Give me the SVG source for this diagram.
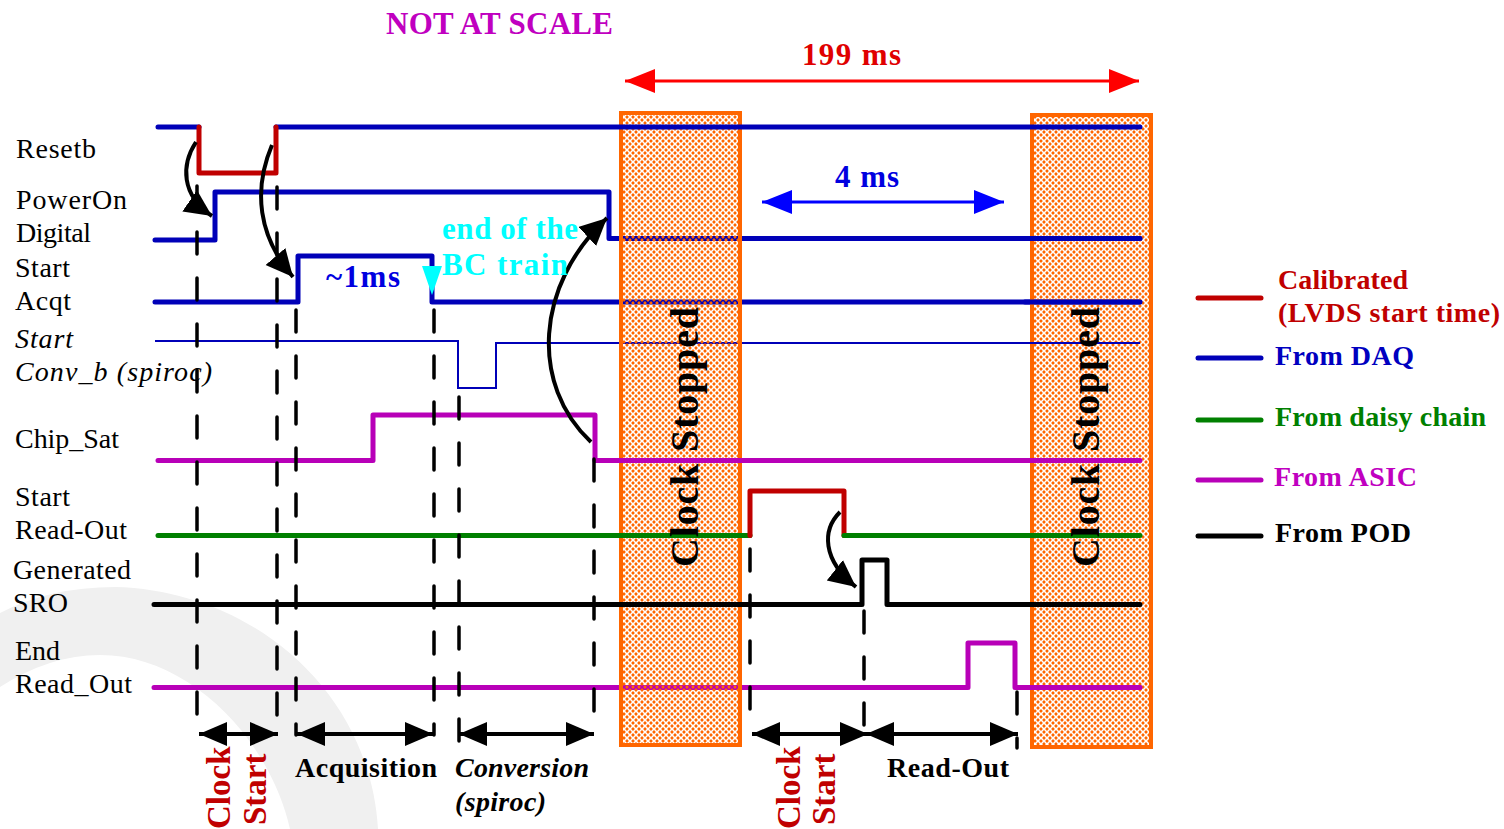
<svg xmlns="http://www.w3.org/2000/svg" width="1504" height="829" viewBox="0 0 1504 829">
<style>
text{font-family:"Liberation Serif","Times New Roman",serif}
.l{font-size:28px;fill:#000}
.i{font-style:italic}
.b{font-weight:bold}
.s{fill:none;stroke-width:5;stroke-linecap:round;stroke-linejoin:round}
.blue{stroke:#0000b8}.red{stroke:#c00000}.mag{stroke:#b800b8}.grn{stroke:#008000}.blk{stroke:#000}
.d{fill:none;stroke:#000;stroke-width:3.5;stroke-dasharray:22 24;stroke-linecap:round}
.a{fill:none;stroke:#000;stroke-width:4}
.h{fill:url(#h);stroke:#ff6600;stroke-width:4}
</style>
<defs>
<pattern id="h" width="6" height="6" patternUnits="userSpaceOnUse">
<path fill="#ff6600" d="M3 1.1L4.9 3L3 4.9L1.1 3zM0 -1.9L1.9 0L0 1.9L-1.9 0zM6 -1.9L7.9 0L6 1.9L4.1 0zM0 4.1L1.9 6L0 7.9L-1.9 6zM6 4.1L7.9 6L6 7.9L4.1 6z"/>
</pattern>
<marker id="k" markerUnits="userSpaceOnUse" markerWidth="30" markerHeight="26" refX="28" refY="12" orient="auto-start-reverse"><path d="M0 0L28 12L0 24z" fill="#000"/></marker>
<marker id="k2" markerUnits="userSpaceOnUse" markerWidth="30" markerHeight="28" refX="27" refY="13" orient="auto"><path d="M0 0L27 13L0 26z" fill="#000"/></marker>
<marker id="kb" markerUnits="userSpaceOnUse" markerWidth="32" markerHeight="26" refX="30" refY="13" orient="auto-start-reverse"><path d="M0 1L30 13L0 25z" fill="#0000ff"/></marker>
<marker id="kr" markerUnits="userSpaceOnUse" markerWidth="32" markerHeight="26" refX="30" refY="13" orient="auto-start-reverse"><path d="M0 1L30 13L0 25z" fill="#ff0000"/></marker>
</defs>
<g id="watermark"><path d="M0 613Q50 587 115 587C250 590 370 690 378 829H290C270 740 190 655 100 655Q50 655 0 687z" fill="#f0f0f0"/></g>
<g id="connectors-behind">
<path class="s blue" d="M155 240H215V192H609V238.500H1140"/>
<path class="s blue" d="M155 302H298V256H432V302H1140"/>
<path fill="none" stroke="#0000b8" stroke-width="2" d="M155 341H458V388H496V343H1140"/>
<path class="s mag" d="M154 687.500H968V643H1015V687.500H1140"/>
</g>
<g id="clock-stopped-1"><rect class="h" x="621" y="113" width="119" height="632"/></g>
<g id="clock-stopped-2"><rect class="h" x="1032" y="115" width="119" height="632"/></g>
<g id="connectors">
<path class="s blue" d="M158 127H199M276 127H1140"/>
<path class="s red" d="M199 127V173H276V127"/>
<path class="s blue" d="M1025 238.500H1140M1025 302H1140"/>
<path fill="none" stroke="#0000b8" stroke-width="2" d="M1025 343H1140"/>
<path class="s mag" d="M1025 687.500H1140"/>
<path class="s mag" d="M158 460.500H373V415H595V460.500H1140"/>
<path class="s grn" d="M158 535.500H750"/>
<path class="s red" d="M750 535.500V491H844V535.500"/>
<path class="s grn" d="M844 535.500H1140"/>
<path class="s blk" d="M154 604.500H862V560H887V604.500H1140"/>
<path class="d" d="M197 186V716M277 187V718M296 310V735M434 310V735M459 397V742M594 459V712M750 549V710M864 611V725M1017 692V748"/>
<path class="a" marker-end="url(#k2)" d="M196 142C181 165 181 195 212 216"/>
<path class="a" marker-end="url(#k2)" d="M272 145C253 190 258 236 293 277"/>
<path class="a" marker-end="url(#k2)" d="M591 442C530 385 535 285 607 218"/>
<path class="a" marker-end="url(#k2)" d="M840 512C822 530 822 560 856 587"/>
<path class="a" marker-start="url(#k)" marker-end="url(#k)" d="M199 734H278"/>
<path class="a" marker-start="url(#k)" marker-end="url(#k)" d="M297 734H433"/>
<path class="a" marker-start="url(#k)" marker-end="url(#k)" d="M459 734H594"/>
<path class="a" marker-start="url(#k)" marker-end="url(#k)" d="M752 734H868"/>
<path class="a" marker-start="url(#k)" marker-end="url(#k)" d="M866 734H1018"/>
<path fill="none" stroke="#ff0000" stroke-width="3" marker-start="url(#kr)" marker-end="url(#kr)" d="M625 81H1139"/>
<path fill="none" stroke="#0000ff" stroke-width="3" marker-start="url(#kb)" marker-end="url(#kb)" d="M762 202H1004"/>
<path fill="#00ffff" d="M422 266H442L432 295z"/>
</g>
<g id="labels">
<text class="l" x="16" y="158" textLength="80">Resetb</text>
<text class="l" x="16" y="209" textLength="111">PowerOn</text><text class="l" x="16" y="242" textLength="75">Digital</text>
<text class="l" x="15" y="277" textLength="55">Start</text><text class="l" x="15" y="310" textLength="56">Acqt</text>
<text class="l i" x="15" y="348" textLength="58">Start</text><text class="l i" x="15" y="381" textLength="197">Conv_b (spiroc)</text>
<text class="l" x="15" y="448" textLength="104">Chip_Sat</text>
<text class="l" x="15" y="506" textLength="55">Start</text><text class="l" x="15" y="539" textLength="112">Read-Out</text>
<text class="l" x="13" y="579" textLength="118">Generated</text><text class="l" x="13" y="612" textLength="55">SRO</text>
<text class="l" x="15" y="660" textLength="45">End</text><text class="l" x="15" y="693" textLength="117">Read_Out</text>
<text class="b" x="386" y="34" font-size="31" fill="#c000c0" textLength="227">NOT AT SCALE</text>
<text class="b" x="802" y="65" font-size="31" fill="#e00000" textLength="99">199 ms</text>
<text class="b" x="835" y="187" font-size="31" fill="#0000e0" textLength="64">4 ms</text>
<text class="b" x="326" y="287" font-size="31" fill="#0000e0" textLength="74">~1ms</text>
<text class="b" x="442" y="239" font-size="31" fill="#00ffff" textLength="136">end of the</text>
<text class="b" x="442" y="275" font-size="31" fill="#00ffff" textLength="126">BC train</text>
<text class="b" transform="translate(698 567) rotate(-90)" font-size="40" fill="#000" textLength="260">Clock Stopped</text>
<text class="b" transform="translate(1099 567) rotate(-90)" font-size="40" fill="#000" textLength="260">Clock Stopped</text>
<text class="b" transform="translate(230 829) rotate(-90)" font-size="33" fill="#c00000">Clock</text>
<text class="b" transform="translate(266 825) rotate(-90)" font-size="33" fill="#c00000">Start</text>
<text class="b" transform="translate(800 829) rotate(-90)" font-size="33" fill="#c00000">Clock</text>
<text class="b" transform="translate(835 825) rotate(-90)" font-size="33" fill="#c00000">Start</text>
<text class="b" x="295" y="777" font-size="28" textLength="142">Acquisition</text>
<text class="b i" x="455" y="777" font-size="28" textLength="134">Conversion</text>
<text class="b i" x="455" y="811" font-size="28" textLength="91">(spiroc)</text>
<text class="b" x="887" y="777" font-size="28" textLength="122">Read-Out</text>
</g>
<g id="legend">
<path class="s red" d="M1198 298H1261"/>
<path class="s blue" d="M1198 358H1261"/>
<path class="s grn" d="M1198 420H1261"/>
<path class="s mag" d="M1198 480H1261"/>
<path class="s blk" d="M1198 536H1261"/>
<text class="b" x="1278" y="289" font-size="28" fill="#c00000" textLength="130">Calibrated</text>
<text class="b" x="1278" y="322" font-size="28" fill="#c00000" textLength="222">(LVDS start time)</text>
<text class="b" x="1275" y="365" font-size="28" fill="#0000c0" textLength="139">From DAQ</text>
<text class="b" x="1275" y="426" font-size="28" fill="#008000" textLength="211">From daisy chain</text>
<text class="b" x="1274" y="486" font-size="28" fill="#c000c0" textLength="143">From ASIC</text>
<text class="b" x="1275" y="542" font-size="28" fill="#000" textLength="136">From POD</text>
</g>
</svg>
